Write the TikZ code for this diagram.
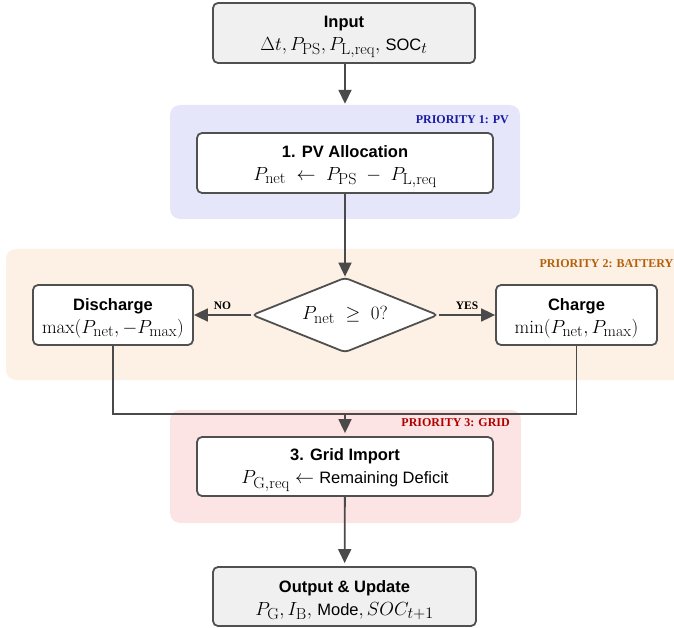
\RequirePackage{fix-cm}
\documentclass[tikz,border=0pt]{standalone}
\usepackage{fontspec}
\setsansfont{Liberation Sans}
\newfontfamily\lblfont{Liberation Serif}
\usetikzlibrary{shapes.geometric,arrows.meta}
\definecolor{edgec}{HTML}{505050}
\definecolor{arrc}{HTML}{4A4A4A}
\definecolor{grayfill}{HTML}{F0F0F0}
\definecolor{bluereg}{HTML}{E6E6FA}
\definecolor{orangereg}{HTML}{FDF0E4}
\definecolor{redreg}{HTML}{FCE4E4}
\definecolor{bluelbl}{HTML}{1A1AA6}
\definecolor{orangelbl}{HTML}{B4600A}
\definecolor{redlbl}{HTML}{B00000}
\DeclareMathSizes{19}{19}{16}{12.5}
\newcommand\mthsz{\fontsize{19}{23}\selectfont}
\newcommand\txtsz{\fontsize{16.5}{23}\selectfont}
\newcommand\ttl[1]{\rule{0pt}{19pt}\textbf{#1}}
\begin{document}
\begin{tikzpicture}[x=1pt,y=-1pt,
  region/.style={rounded corners=10pt, inner sep=0pt},
  box/.style={draw=edgec, line width=1.8pt, rounded corners=5pt, fill=white,
    align=center, inner sep=0pt, font=\sffamily\txtsz},
  graybox/.style={box, fill=grayfill},
  dia/.style={diamond, draw=edgec, line width=1.8pt, rounded corners=4pt, fill=white,
    inner sep=0pt, shape aspect=2.48, minimum width=186pt, minimum height=75pt, font=\mthsz},
  arr/.style={draw=arrc, line width=1.8pt, -{Triangle[length=14pt,width=13pt]}},
  conn/.style={draw=arrc, line width=1.8pt},
  plbl/.style={font=\lblfont\bfseries\fontsize{12}{14}\selectfont, anchor=east, inner sep=0pt},
  ylbl/.style={font=\lblfont\bfseries\fontsize{11.5}{13}\selectfont, above=4pt, inner sep=0pt, text=black}
]
\clip (0,0) rectangle (674,628);
% priority regions
\node[region, fill=bluereg, minimum width=350pt, minimum height=114pt] (r1) at (345,162) {};
\node[region, fill=orangereg, minimum width=684pt, minimum height=131pt] (r2) at (348,314.5) {};
\node[region, fill=redreg, minimum width=351pt, minimum height=113pt] (r3) at (345.5,466.5) {};
\node[plbl, text=bluelbl] (l1) at (509,120) {PRIORITY 1: PV};
\node[plbl, text=orangelbl] (l2) at (673.5,264) {PRIORITY 2: BATTERY};
\node[plbl, text=redlbl] (l3) at (510,423) {PRIORITY 3: GRID};
% boxes
\node[graybox, minimum width=262pt, minimum height=60pt] (in) at (344,33)
  {\ttl{Input}\\ {\mthsz$\Delta t, P_{\mathrm{PS}}, P_{\mathrm{L,req}},$ \txtsz SOC\mthsz$_t$}};
\node[box, minimum width=296pt, minimum height=60pt] (pv) at (345,163)
  {\ttl{1. PV Allocation}\\ {\mthsz$P_{\mathrm{net}} \;\leftarrow\; P_{\mathrm{PS}} \;-\; P_{\mathrm{L,req}}$}};
\node[dia] (d) at (345,315) {$P_{\mathrm{net}} \;\geq\; 0?$};
\node[box, minimum width=160pt, minimum height=60pt] (dis) at (113,315)
  {\ttl{Discharge}\\ {\mthsz$\max(P_{\mathrm{net}}, -P_{\max})$}};
\node[box, minimum width=161pt, minimum height=60pt] (ch) at (576.5,315)
  {\ttl{Charge}\\ {\mthsz$\min(P_{\mathrm{net}}, P_{\max})$}};
\node[box, minimum width=296pt, minimum height=59pt] (gr) at (345,466.5)
  {\ttl{3. Grid Import}\\ {\mthsz$P_{\mathrm{G,req}} \leftarrow$ \txtsz Remaining Deficit}};
\node[graybox, minimum width=263pt, minimum height=59pt] (out) at (344.5,596.5)
  {\ttl{Output \& Update}\\ {\mthsz$P_{\mathrm{G}}, I_{\mathrm{B}},$ \txtsz Mode\mthsz$, SOC_{t+1}$}};
% connectors
\coordinate (j) at (345,414);
\draw[arr, shorten >=1pt] (in.south -| r1.north) -- (r1.north);
\draw[arr] (pv) -- (d);
\draw[arr] (d.west) -- (dis.east) node[ylbl, midway] {NO};
\draw[arr] (d.east) -- (ch.west) node[ylbl, midway] {YES};
\draw[conn] (dis.south) |- (j);
\draw[conn] (ch.south) |- (j);
\draw[arr, shorten >=3pt] (j) -- (gr.north);
\draw[arr, shorten >=3pt] (gr) -- (out);
\end{tikzpicture}
\end{document}
